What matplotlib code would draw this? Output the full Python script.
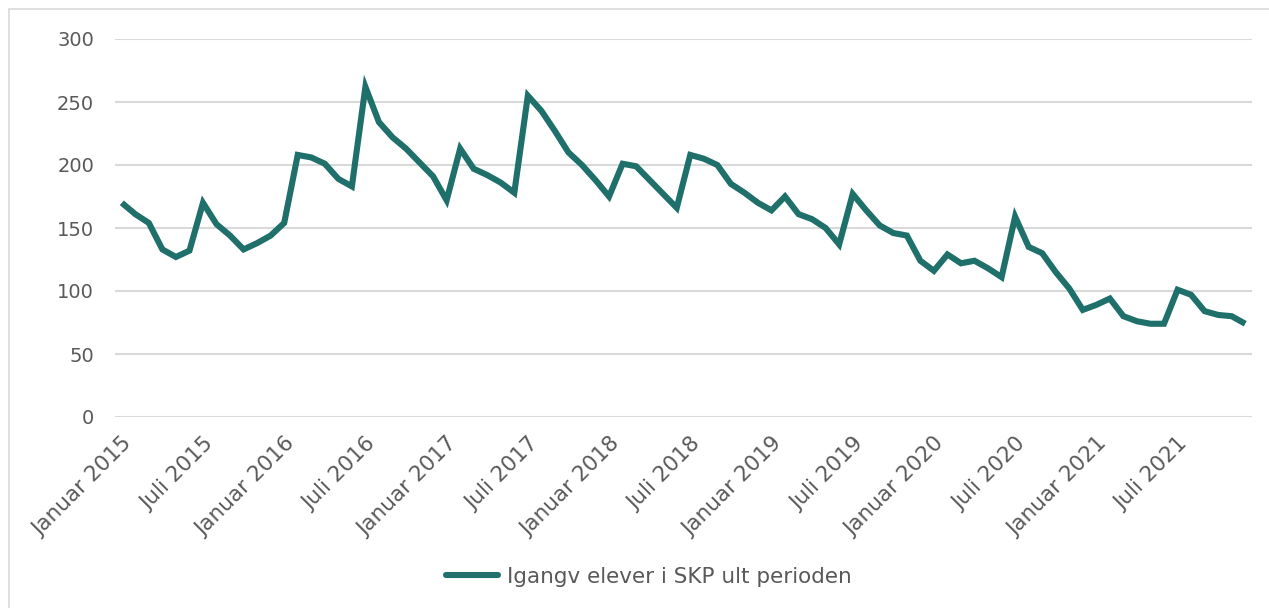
import matplotlib
matplotlib.use("Agg")
import matplotlib.pyplot as plt
from matplotlib.patches import Rectangle

months = ["Januar", "Februar", "Mars", "April", "Mai", "Juni",
          "Juli", "August", "September", "Oktober", "November", "Desember"]
years = [2015, 2016, 2017, 2018, 2019, 2020, 2021]
categories = [f"{m} {y}" for y in years for m in months]

values = [170, 161, 154, 133, 127, 132, 170, 153, 144, 133, 138, 144,
          154, 208, 206, 201, 189, 183, 262, 234, 222, 213, 202, 191,
          172, 213, 197, 192, 186, 178, 255, 243, 227, 210, 200, 188,
          175, 201, 199, 188, 177, 166, 208, 205, 200, 185, 178, 170,
          164, 175, 161, 157, 150, 137, 177, 164, 152, 146, 144, 124,
          116, 129, 122, 124, 118, 111, 159, 135, 130, 115, 102, 85,
          89, 94, 80, 76, 74, 74, 101, 97, 84, 81, 80, 74]

series_name = "Igangv elever i SKP ult perioden"
y_ticks = [0, 50, 100, 150, 200, 250, 300]

W, H = 1269, 608
fig = plt.figure(figsize=(W / 100, H / 100), dpi=100)
fig.patch.set_facecolor("white")

# outer chart border (left and top visible)
fig.patches.append(Rectangle((9 / W, -0.1), 1.2, 1 - 9 / H + 0.1,
                             transform=fig.transFigure, fill=False,
                             edgecolor="#D9D9D9", linewidth=1.2))

ax = fig.add_axes([115 / W, 1 - 417 / H, (1252 - 115) / W, (417 - 39) / H])
x = list(range(len(categories)))
line, = ax.plot(x, values, color="#1F6F6B", linewidth=4.4,
                solid_joinstyle="miter", solid_capstyle="butt",
                label=series_name, zorder=3)

ax.set_xlim(-0.5, len(categories) - 0.5)
ax.set_ylim(0, 300)
ax.set_yticks(y_ticks)
ax.set_yticklabels([str(v) for v in y_ticks])
ax.yaxis.grid(True, color="#D9D9D9", linewidth=1.5)
ax.set_axisbelow(True)
for s in ax.spines.values():
    s.set_visible(False)

tick_pos = x[::6]
ax.set_xticks(tick_pos)
ax.set_xticklabels([categories[i] for i in tick_pos], rotation=45,
                   ha="right", va="top", rotation_mode="anchor")
ax.tick_params(axis="both", length=0, colors="#595959")
ax.tick_params(axis="y", pad=15, labelsize=14)
ax.tick_params(axis="x", pad=12, labelsize=15.5)

leg = fig.legend(handles=[line], loc="center", bbox_to_anchor=(649 / W, 1 - 577 / H),
                 frameon=False, fontsize=15.5, handlelength=2.4,
                 handletextpad=0.4)
for t in leg.get_texts():
    t.set_color("#595959")
for l in leg.get_lines():
    l.set_solid_capstyle("round")

fig.savefig("out.png", dpi=100, facecolor="white")
